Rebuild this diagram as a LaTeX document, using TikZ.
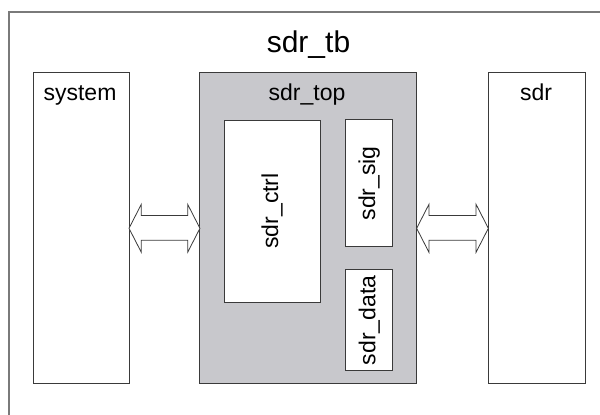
\documentclass[tikz,border=0pt]{standalone}
\usepackage{fontspec}
\setmainfont{Liberation Sans}
\usetikzlibrary{calc}
\definecolor{framegray}{HTML}{7A7A7A}
\definecolor{linegray}{HTML}{3A3A3A}
\definecolor{topfill}{HTML}{C8C8CC}
\tikzset{
  box/.style={draw=linegray, line width=1pt, fill=white, inner sep=0pt, outer sep=0pt},
  graybox/.style={box, fill=topfill},
  lbl/.style={font=\fontsize{23}{23}\selectfont, text=black, inner sep=0pt, anchor=base},
  vlbl/.style={font=\fontsize{23}{23}\selectfont, text=black, inner sep=0pt, rotate=90},
  title/.style={font=\fontsize{30}{30}\selectfont, text=black, inner sep=0pt, anchor=base},
  arr/.style={draw=linegray, line width=0.8pt, fill=white, line join=miter}
}
\begin{document}
\begin{tikzpicture}[x=1pt, y=-1pt]
\useasboundingbox (0,0) rectangle (600,415);
\draw[framegray, line width=1.5pt] (9,430) -- (9,12) -- (615,12);
\node[title] (tb) at (308.5,52) {sdr\_tb};
\node[box, minimum width=96pt, minimum height=311pt] (system) at (81,227.5) {};
\node[graybox, minimum width=216.7pt, minimum height=311pt] (top) at (308.3,227.5) {};
\node[box, minimum width=96.7pt, minimum height=311pt] (sdr) at (536.7,227.5) {};
\node[box, minimum width=96pt, minimum height=182pt] (ctrl) at (272,211) {};
\node[box, minimum width=46.7pt, minimum height=126.7pt] (sig) at (369.3,183.3) {};
\node[box, minimum width=46.7pt, minimum height=100.7pt] (data) at (369.3,320.3) {};
\node[lbl] (systemlbl) at (80,100) {system};
\node[lbl] (toplbl) at (307,100) {sdr\_top};
\node[lbl] (sdrlbl) at (536,100) {sdr};
\node[vlbl] (ctrllbl) at (ctrl.center) {sdr\_ctrl};
\node[vlbl] (siglbl) at (sig.center) {sdr\_sig};
\node[vlbl] (datalbl) at (data.center) {sdr\_data};
\coordinate (l1) at (system.east |- 0,228.3);
\coordinate (r1) at (top.west |- 0,228.3);
\coordinate (l2) at (top.east |- 0,228.3);
\coordinate (r2) at (sdr.west |- 0,228.3);
\foreach \L/\R in {l1/r1, l2/r2}{
  \draw[arr] (\L) -- ($(\L)+(12.3,-24)$) -- ($(\L)+(12.3,-12.8)$) -- ($(\R)+(-12.3,-12.8)$) -- ($(\R)+(-12.3,-24)$) -- (\R)
    -- ($(\R)+(-12.3,24)$) -- ($(\R)+(-12.3,12)$) -- ($(\L)+(12.3,12)$) -- ($(\L)+(12.3,24)$) -- cycle;
}
\end{tikzpicture}
\end{document}
